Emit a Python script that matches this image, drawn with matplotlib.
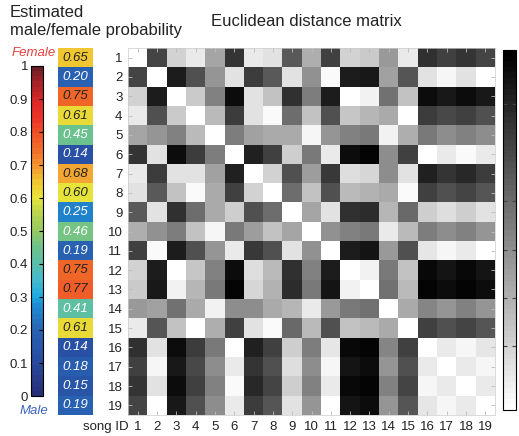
import numpy as np
import matplotlib
matplotlib.use('Agg')
import matplotlib.pyplot as plt
from matplotlib.colors import LinearSegmentedColormap, Normalize
from matplotlib.cm import ScalarMappable

plt.rcParams['font.family'] = ['Liberation Sans', 'DejaVu Sans']

# estimated female probability per song
prob = [0.65, 0.20, 0.75, 0.61, 0.45, 0.14, 0.68, 0.60, 0.25, 0.46,
        0.19, 0.75, 0.77, 0.41, 0.61, 0.14, 0.18, 0.15, 0.19]
song_ids = [str(i) for i in range(1, 20)]

dist = [
    [0, 185, 45, 20, 90, 200, 20, 30, 165, 80, 188, 47, 55, 100, 20, 205, 190, 200, 185],
    [185, 0, 225, 175, 105, 30, 195, 165, 30, 110, 5, 225, 230, 95, 170, 30, 10, 30, 3],
    [45, 225, 0, 55, 125, 240, 30, 60, 205, 130, 225, 3, 15, 140, 60, 243, 230, 240, 230],
    [20, 175, 55, 0, 70, 195, 30, 5, 145, 60, 175, 58, 73, 85, 3, 195, 180, 190, 173],
    [90, 105, 125, 70, 0, 130, 95, 85, 85, 8, 105, 125, 135, 15, 80, 133, 115, 127, 113],
    [200, 30, 240, 195, 130, 0, 220, 188, 48, 132, 22, 243, 250, 115, 190, 0, 20, 5, 20],
    [20, 195, 30, 30, 95, 220, 0, 45, 175, 97, 198, 35, 40, 115, 30, 220, 200, 215, 195],
    [30, 165, 60, 5, 85, 188, 45, 0, 145, 63, 175, 70, 77, 85, 5, 190, 175, 185, 170],
    [165, 30, 205, 145, 85, 48, 175, 145, 0, 88, 30, 205, 210, 75, 150, 50, 35, 50, 30],
    [80, 110, 130, 60, 8, 132, 97, 63, 88, 0, 110, 125, 135, 20, 70, 130, 115, 125, 107],
    [188, 5, 225, 175, 105, 22, 198, 175, 30, 110, 0, 225, 233, 100, 175, 25, 10, 20, 3],
    [47, 225, 3, 58, 125, 243, 35, 70, 205, 125, 225, 0, 15, 135, 63, 245, 235, 245, 235],
    [55, 230, 15, 73, 135, 250, 40, 77, 210, 135, 233, 15, 0, 140, 70, 250, 240, 250, 240],
    [100, 95, 140, 85, 15, 115, 115, 85, 75, 20, 100, 135, 140, 0, 85, 120, 105, 125, 105],
    [20, 170, 60, 3, 80, 190, 30, 5, 150, 70, 175, 63, 70, 85, 0, 190, 175, 185, 170],
    [205, 30, 243, 195, 133, 0, 220, 190, 50, 130, 25, 245, 250, 120, 190, 0, 20, 10, 25],
    [190, 10, 230, 180, 115, 20, 200, 175, 35, 115, 10, 235, 240, 105, 175, 20, 0, 20, 10],
    [200, 30, 240, 190, 127, 5, 215, 185, 50, 125, 20, 245, 250, 125, 185, 10, 20, 0, 20],
    [185, 3, 230, 173, 113, 20, 195, 170, 30, 107, 3, 235, 240, 105, 170, 25, 10, 20, 0],
]

prob_ticks = [0, 0.1, 0.2, 0.3, 0.4, 0.5, 0.6, 0.7, 0.8, 0.9, 1]
prob_ticklabels = ['0', '0.1', '0.2', '0.3', '0.4', '0.5', '0.6', '0.7', '0.8', '0.9', '1']
dist_ticks = [45, 79, 113, 148, 183, 217]
dist_ticklabels = ['', '20', '', '25', '', '30']

# colour map of the probability bar
anchors = [(0.0, '#282d78'), (0.1, '#284ba0'), (0.2, '#2864b4'), (0.27, '#1e8cd2'),
           (0.3, '#1eaae1'), (0.35, '#46b9cd'), (0.4, '#5abeaa'), (0.45, '#6ec38c'),
           (0.5, '#96c864'), (0.55, '#b4d250'), (0.6, '#e6e63c'), (0.65, '#f0c832'),
           (0.7, '#f59632'), (0.75, '#f06e28'), (0.8, '#f05028'), (0.85, '#eb3228'),
           (0.9, '#dc2828'), (0.95, '#aa2328'), (1.0, '#6e1e28')]
prob_cmap = LinearSegmentedColormap.from_list('prob', anchors, N=64)
gray64 = plt.get_cmap('gray_r', 64)

W, H = 519, 436
fig = plt.figure(figsize=(W / 100, H / 100), dpi=100)


def px_axes(x0, y0, x1, y1):
    return fig.add_axes([x0 / W, 1 - y1 / H, (x1 - x0) / W, (y1 - y0) / H])


# distance matrix
ax_m = px_axes(128, 48, 495, 415)
ax_m.imshow(np.array(dist), cmap=gray64, vmin=0, vmax=255, aspect='auto',
            interpolation='nearest')
ax_m.set_xticks(range(19))
ax_m.set_xticklabels(song_ids)
ax_m.set_yticks(range(19))
ax_m.set_yticklabels(song_ids)
ax_m.tick_params(direction='in', length=3, width=0.6, color='#bbbbbb', top=True,
                 right=True, labelsize=9.5, pad=4, labelcolor='#222222')
for s in ax_m.spines.values():
    s.set_color('#cccccc')
    s.set_linewidth(0.5)

# probability column
ax_p = px_axes(58, 48, 93, 415)
ax_p.imshow(np.array(prob)[:, None], cmap=prob_cmap, vmin=0, vmax=1, aspect='auto',
            interpolation='nearest')
for i, p in enumerate(prob):
    ax_p.text(0, i, '%.2f' % p, ha='center', va='center', fontsize=9.5, style='italic',
              color='white' if p < 0.5 else '#222222')
ax_p.axis('off')

# probability colour bar
ax_cb = px_axes(31, 66, 43, 396)
cb = fig.colorbar(ScalarMappable(norm=Normalize(0, 1), cmap=prob_cmap), cax=ax_cb)
cb.set_ticks(prob_ticks)
cb.set_ticklabels(prob_ticklabels)
cb.minorticks_off()
ax_cb.tick_params(axis='y', left=False, right=True, labelleft=True, labelright=False,
                  direction='in', length=3, width=0.8, labelsize=9.5, pad=2,
                  labelcolor='#222222')
cb.outline.set_linewidth(0.8)

# distance colour bar (cut by the right edge)
ax_g = px_axes(503, 50, 516, 410)
cg = fig.colorbar(ScalarMappable(norm=Normalize(0, 255), cmap=gray64), cax=ax_g)
cg.set_ticks(dist_ticks)
cg.set_ticklabels(dist_ticklabels)
cg.minorticks_off()
ax_g.tick_params(axis='y', left=True, right=True, direction='in', length=3, width=0.8,
                 color='#444444', labelsize=9.5, pad=4)
cg.outline.set_linewidth(0.8)

fig.text(10 / W, 1 - 5 / H, 'Estimated\nmale/female probability', ha='left', va='top',
         fontsize=12, linespacing=1.25, color='#222222')
fig.text(306 / W, 1 - 21 / H, 'Euclidean distance matrix', ha='center', va='center',
         fontsize=12, color='#222222')
fig.text(33.5 / W, 1 - 53 / H, 'Female', ha='center', va='center', fontsize=9.5,
         style='italic', color='#e8403c')
fig.text(33.5 / W, 1 - 411 / H, 'Male', ha='center', va='center', fontsize=9.5,
         style='italic', color='#3c64be')
fig.text(129 / W, 1 - 427 / H, 'song ID', ha='right', va='center', fontsize=9.5,
         color='#222222')

fig.savefig('out.png', dpi=100)
